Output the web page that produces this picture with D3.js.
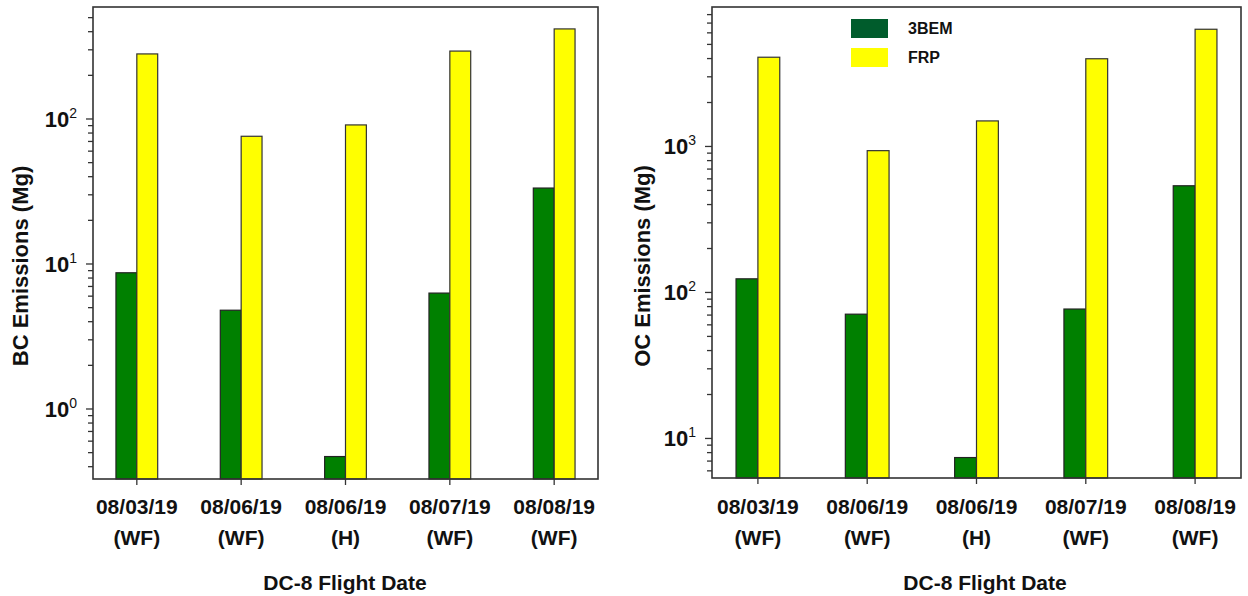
<!DOCTYPE html>
<html>
<head>
<meta charset="utf-8">
<script src="https://cdn.jsdelivr.net/npm/d3@7"></script>
<style>
body{margin:0;background:#fff;}
text{font-family:"Liberation Sans",Arial,sans-serif;fill:#111;}
</style>
</head>
<body>
<div id="chart"></div>
<script>
var W=1248, H=596;

// data
var dates=["08/03/19","08/06/19","08/06/19","08/07/19","08/08/19"];
var fireTypes=["(WF)","(WF)","(H)","(WF)","(WF)"];
var bc3bem=[8.7,4.8,0.47,6.3,33.4];
var bcFrp=[281,76,91,294,418];
var oc3bem=[124,71,7.4,77,538];
var ocFrp=[4085,936,1496,3988,6350];
var seriesNames=["3BEM","FRP"];

var green="#008000", yellow="#ffff00", legendGreen="#005c2c";

var svg=d3.select("#chart")
.append("svg")
.attr("width",W)
.attr("height",H);

var panels=[
 {label:"BC Emissions (Mg)", a:bc3bem, b:bcFrp, x0:93, x1:598, y0:7, y1:479, dom:[0.329,592], labX:20, titleX:345},
 {label:"OC Emissions (Mg)", a:oc3bem, b:ocFrp, x0:712, x1:1241, y0:7, y1:478, dom:[5.36,9020], labX:642, titleX:985}
];

panels.forEach(function(p){
  var keys=d3.range(dates.length);
  var x=d3.scalePoint().domain(keys).range([p.x0,p.x1]).padding(0.42);
  var y=d3.scaleLog().domain(p.dom).range([p.y1,p.y0]);
  var bw=x.step()*0.2;
  var g=svg.append("g");

  // bars
  g.selectAll("rect.a").data(p.a).enter().append("rect")
   .attr("x",function(d,i){return x(i)-bw;})
   .attr("y",function(d){return y(d);})
   .attr("width",bw)
   .attr("height",function(d){return p.y1-y(d);})
   .attr("fill",green).attr("stroke","#222").attr("stroke-width",1.2);
  g.selectAll("rect.b").data(p.b).enter().append("rect")
   .attr("x",function(d,i){return x(i);})
   .attr("y",function(d){return y(d);})
   .attr("width",bw)
   .attr("height",function(d){return p.y1-y(d);})
   .attr("fill",yellow).attr("stroke","#333").attr("stroke-width",1.2);

  // frame
  g.append("rect")
   .attr("x",p.x0).attr("y",p.y0)
   .attr("width",p.x1-p.x0).attr("height",p.y1-p.y0)
   .attr("fill","none").attr("stroke","#333").attr("stroke-width",1.6);

  // y ticks (log, with minor ticks)
  var ticks=y.ticks(20).filter(function(t){return y(t)>=p.y0+1 && y(t)<=p.y1-1;});
  ticks.forEach(function(t){
    var e=Math.round(Math.log10(t));
    var major=Math.abs(Math.log10(t)-e)<1e-6;
    var yy=y(t);
    g.append("line").attr("x1",p.x0).attr("x2",p.x0-(major?7:5))
     .attr("y1",yy).attr("y2",yy).attr("stroke","#333").attr("stroke-width",1.3);
    if(major){
      var tx=g.append("text").attr("x",p.x0-16).attr("y",yy+8)
       .attr("text-anchor","end").style("font-size","22px").style("font-weight","bold");
      tx.append("tspan").text("10");
      tx.append("tspan").attr("dy",-9).style("font-size","14px").style("font-weight","normal").text(e);
    }
  });

  // x ticks and labels
  keys.forEach(function(i){
    g.append("line").attr("x1",x(i)).attr("x2",x(i))
     .attr("y1",p.y1).attr("y2",p.y1+6).attr("stroke","#333").attr("stroke-width",1.3);
    g.append("text").attr("x",x(i)).attr("y",514).attr("text-anchor","middle")
     .style("font-size","21px").style("font-weight","bold").text(dates[i]);
    g.append("text").attr("x",x(i)).attr("y",545).attr("text-anchor","middle")
     .style("font-size","21px").style("font-weight","bold").text(fireTypes[i]);
  });

  g.append("text").attr("x",p.titleX).attr("y",590).attr("text-anchor","middle")
   .style("font-size","21px").style("font-weight","bold").text("DC-8 Flight Date");

  g.append("text").attr("transform","translate("+p.labX+",266) rotate(-90)")
   .attr("text-anchor","middle").attr("dominant-baseline","central")
   .style("font-size","22px").style("font-weight","bold").text(p.label);
});

// legend
var leg=svg.append("g").attr("transform","translate(851,19)");
[legendGreen,yellow].forEach(function(c,i){
  leg.append("rect").attr("x",0).attr("y",i*29).attr("width",37).attr("height",19).attr("fill",c);
  leg.append("text").attr("x",57).attr("y",i*29+15).style("font-size","16px")
   .style("font-weight","bold").text(seriesNames[i]);
});
</script>
</body>
</html>
